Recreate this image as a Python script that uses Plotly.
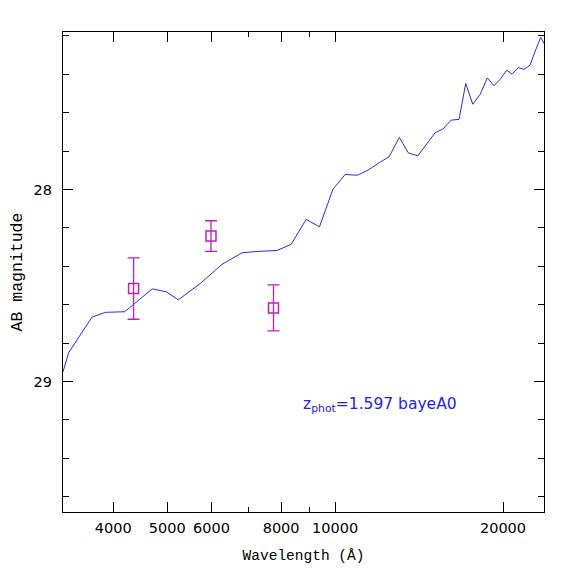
import math
import plotly.graph_objects as go

# Model SED (wavelength in Angstrom, AB magnitude)
sed_wave = [3250, 3327, 3664, 3873, 4193, 4698, 4977, 5232, 5728, 6268, 6806, 7240,
            7863, 8340, 8873, 9373, 9905, 10421, 10964, 11446, 12007, 12495, 13035,
            13532, 14068, 14596, 15107, 15598, 16141, 16681, 17146, 17652, 18197,
            18750, 19275, 19758, 20310, 20755, 21302, 21810, 22360, 22822, 23366, 23690]
sed_mag = [28.95, 28.85, 28.665, 28.64, 28.637, 28.518, 28.533, 28.575, 28.49, 28.39,
           28.33, 28.323, 28.318, 28.286, 28.156, 28.195, 28.0, 27.922, 27.926, 27.9,
           27.86, 27.83, 27.729, 27.81, 27.825, 27.764, 27.705, 27.686, 27.639, 27.635,
           27.448, 27.556, 27.505, 27.419, 27.46, 27.427, 27.379, 27.40, 27.365, 27.375,
           27.353, 27.283, 27.208, 27.24]

# Observed photometry
obs_wave = [4350, 5988, 7752]
obs_mag = [28.516, 28.243, 28.617]
obs_err = [0.16, 0.08, 0.12]

x_tickvals = [4000, 5000, 6000, 8000, 10000, 20000]
x_ticktext = ["4000", "5000", "6000", "8000", "10000", "20000"]
x_minor = [7000, 9000]
y_tickvals = [28, 29]

label_text = "z<sub>phot</sub>=1.597 bayeA0"

TITLE_FONT = "Liberation Mono"
TICK_FONT = "DejaVu Sans"
BLUE = "#2828ff"
MAG = "#c21cc2"

fig = go.Figure()
fig.add_trace(go.Scatter(x=sed_wave, y=sed_mag, mode="lines",
                         line=dict(color=BLUE, width=1), showlegend=False))
fig.add_trace(go.Scatter(x=obs_wave, y=obs_mag, mode="markers",
                         marker=dict(symbol="square-open", size=10,
                                     color=MAG, line=dict(width=1.5, color=MAG)),
                         error_y=dict(type="data", array=obs_err, color=MAG,
                                      thickness=1.3, width=6),
                         showlegend=False))

fig.add_annotation(x=math.log10(8700), y=29.123, xref="x", yref="y", text=label_text,
                   showarrow=False, xanchor="left", yanchor="middle",
                   font=dict(family=TICK_FONT, size=15.5, color="#2020ff"))

# page body has an 8px margin; margins compensate so the plot lands where the reference has it
fig.update_layout(
    width=574, height=574,
    margin=dict(l=55, r=38, t=24, b=70),
    paper_bgcolor="white", plot_bgcolor="white",
    font=dict(family=TICK_FONT, size=14, color="black"),
    xaxis=dict(type="log", range=[math.log10(3250), math.log10(23690)],
               tickvals=x_tickvals, ticktext=x_ticktext, automargin=False,
               ticks="inside", ticklen=10, tickwidth=1, tickcolor="black",
               mirror="allticks", showline=True, linecolor="black", linewidth=1.3,
               showgrid=False, zeroline=False, ticklabelstandoff=2,
               minor=dict(tickvals=x_minor, ticks="inside", ticklen=5,
                          tickcolor="black", showgrid=False),
               title=dict(text="Wavelength (Å)", standoff=15,
                          font=dict(family=TITLE_FONT, size=14.5)),
               tickfont=dict(family=TICK_FONT, size=14.5)),
    yaxis=dict(range=[29.68, 27.18], tickvals=y_tickvals, automargin=False,
               ticks="inside", ticklen=10, tickwidth=1, tickcolor="black",
               mirror="allticks", showline=True, linecolor="black", linewidth=1.3,
               showgrid=False, zeroline=False, ticklabelstandoff=7,
               minor=dict(dtick=0.2, tick0=0, ticks="inside", ticklen=6,
                          tickcolor="black", showgrid=False),
               title=dict(text="AB magnitude", standoff=7,
                          font=dict(family=TITLE_FONT, size=16.5)),
               tickfont=dict(family=TICK_FONT, size=14.5)),
)

fig.write_html("out.html")
